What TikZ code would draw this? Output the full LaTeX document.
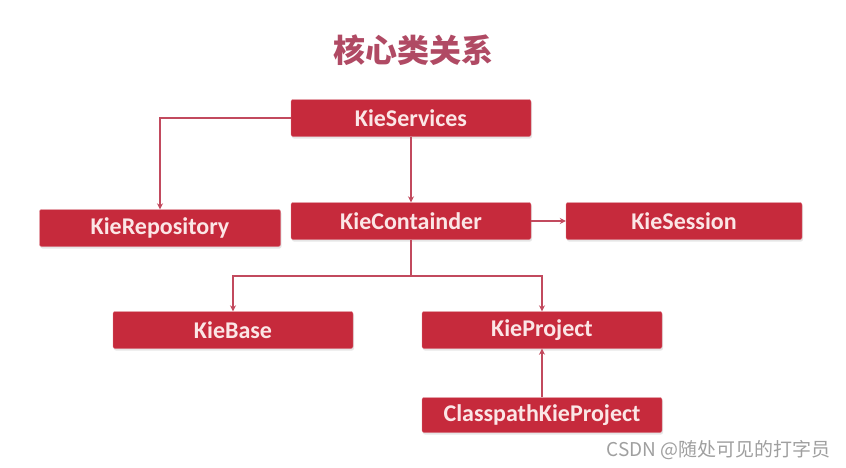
\documentclass[tikz,border=0pt]{standalone}
\usepackage{fontspec}
\setmainfont{Carlito}
\newfontfamily\cjkfont{Noto Sans CJK SC}
\usetikzlibrary{arrows.meta,positioning,shadows}
\definecolor{kiered}{HTML}{C62A3C}
\definecolor{kieline}{HTML}{C24A5E}
\definecolor{kietitle}{HTML}{B04A64}
\definecolor{kietext}{HTML}{FBE6E6}

\begin{document}
\begin{tikzpicture}[x=1pt,y=-1pt,
 kiebox/.style={fill=kiered,draw=kiered!60!white,rounded corners=2pt,minimum width=240pt,minimum height=37pt,text=kietext,font=\fontsize{24}{26}\selectfont\bfseries,drop shadow={opacity=0.2,shadow xshift=1pt,shadow yshift=-2pt}},
 wire/.style={-{Stealth[length=6pt,width=6pt]},draw=kieline,line width=1.8pt}]
\useasboundingbox (0,0) rectangle (846,467);
\node[font=\cjkfont\bfseries\fontsize{32}{34}\selectfont,text=kietitle] (title) at (413,50) {核心类关系};
\node[kiebox] (services) at (411,118) {KieServices};
\node[kiebox,minimum width=241pt] (repository) at (160,228) {KieRepository};
\node[kiebox] (container) at (411,221) {KieContainder};
\node[kiebox,minimum width=236pt] (session) at (684,221) {KieSession};
\node[kiebox] (base) at (233,330) {KieBase};
\node[kiebox] (project) at (542,330) {KieProject};
\node[kiebox,minimum height=35pt] (classpath) at (542,415) {ClasspathKieProject};
\node[anchor=east,text=gray!75,font=\cjkfont\fontsize{19}{21}\selectfont] (mark) at (834,450) {CSDN @随处可见的打字员};
\draw[wire] (services.west) -| (repository.north);
\draw[wire] (services) -- (container);
\draw[wire] (container) -- (session);
\draw[wire] (container.south) -- ++(0,36) -| (base.north);
\draw[wire] (container.south) -- ++(0,36) -| (project.north);
\draw[wire] (classpath) -- (project);
\end{tikzpicture}
\end{document}
